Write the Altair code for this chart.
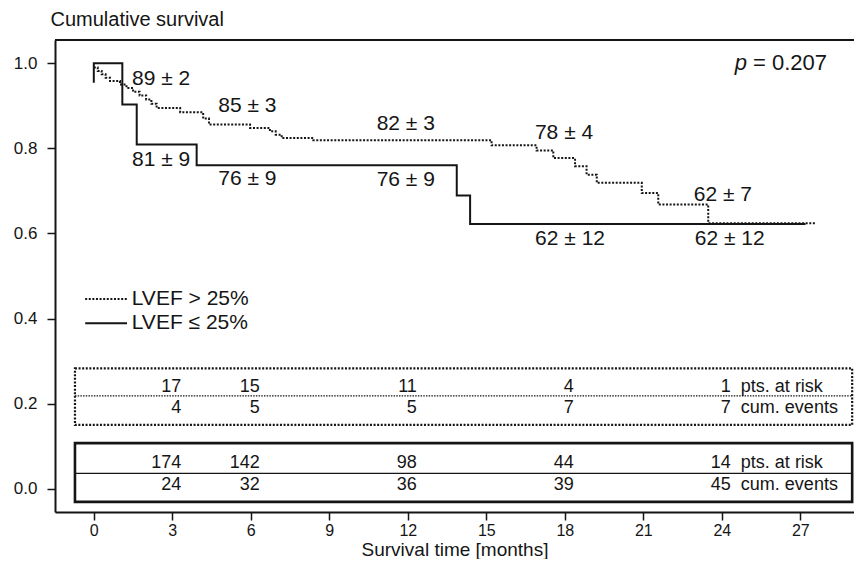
import altair as alt
import pandas as pd

# ---------------- data ----------------
# LVEF > 25% (dotted) Kaplan-Meier steps: time [months], cumulative survival
hi_t = [0, 0.15, 0.3, 0.45, 0.62, 1.0, 1.25, 1.5, 1.75, 2.0, 2.2, 2.4, 3.3, 4.18, 4.4,
        5.97, 6.73, 6.95, 7.18, 8.39, 15.2, 16.92, 17.56, 18.39, 18.83, 19.22, 20.94,
        21.57, 23.48, 27.6]
hi_s = [0.99, 0.982, 0.974, 0.966, 0.958, 0.950, 0.942, 0.933, 0.924, 0.915, 0.905, 0.895,
        0.885, 0.870, 0.856, 0.848, 0.840, 0.832, 0.824, 0.819, 0.807, 0.795, 0.777, 0.758,
        0.738, 0.719, 0.695, 0.668, 0.624, 0.624]
# LVEF <= 25% (solid)
lo_t = [0, 0, 1.09, 1.64, 3.93, 13.87, 14.38, 27.2]
lo_s = [0.954, 1.0, 0.903, 0.809, 0.760, 0.689, 0.622, 0.622]

# survival annotations (percent +- SE)
hi_lab = ["89 ± 2", "85 ± 3", "82 ± 3", "78 ± 4", "62 ± 7"]
hi_lab_t = [2.57, 5.87, 11.92, 17.97, 24.04]
hi_lab_s = [0.963, 0.900, 0.856, 0.836, 0.691]
lo_lab = ["81 ± 9", "76 ± 9", "76 ± 9", "62 ± 12", "62 ± 12"]
lo_lab_t = [2.57, 5.87, 11.92, 18.2, 24.3]
lo_lab_s = [0.773, 0.728, 0.726, 0.588, 0.588]

# numbers at risk tables
table_times = [3, 6, 12, 18, 24]
hi_at_risk = [17, 15, 11, 4, 1]
hi_events = [4, 5, 5, 7, 7]
lo_at_risk = [174, 142, 98, 44, 14]
lo_events = [24, 32, 36, 39, 45]
row_labels = ["pts. at risk", "cum. events"]

legend_labels = ["LVEF > 25%", "LVEF ≤ 25%"]
p_label = "= 0.207"

# ---------------- layout (data units) ----------------
PLOT_W, PLOT_H = 799, 472
XDOM = [-1.483, 29.05]
YDOM = [-0.0548, 1.0546]
BOX_X = (-0.72, 28.98)
HI_BOX = (0.150, 0.283, 0.218, [0.240, 0.189])
LO_BOX = (-0.031, 0.107, 0.036, [0.060, 0.0087])
LEG = dict(x0=-0.33, x1=1.27, xt=1.45, y0=0.4456, dy=0.0565)
P_POS = (28.02, 1.0)

INK = "#151515"
FONT = "Liberation Sans"

xs = alt.Scale(domain=XDOM, nice=False, zero=False)
ys = alt.Scale(domain=YDOM, nice=False, zero=False)
xaxis = alt.Axis(values=list(range(0, 28, 3)), title="Survival time [months]", grid=False,
                 domain=True, domainColor=INK, domainWidth=2,
                 tickSize=8, tickColor=INK, tickWidth=1.5, labelFontSize=16,
                 labelPadding=2, labelColor=INK, titleFontSize=19, titleFontWeight="normal",
                 titleColor=INK, titlePadding=2, labelFont=FONT, titleFont=FONT)
yaxis = alt.Axis(values=[0, 0.2, 0.4, 0.6, 0.8, 1.0], format=".1f", title="Cumulative survival",
                 grid=False, domain=True, domainColor=INK, domainWidth=2,
                 tickSize=8, tickColor=INK, tickWidth=1.5,
                 labelFontSize=17, labelPadding=10, labelColor=INK, titleFontSize=20,
                 titleFontWeight="normal", titleColor=INK, titleAngle=0, titleAlign="left",
                 titleBaseline="middle", titleX=-5, titleY=-21, labelFont=FONT, titleFont=FONT)


def X(f):
    return alt.X(f, type="quantitative", scale=xs, axis=xaxis)


def Y(f):
    return alt.Y(f, type="quantitative", scale=ys, axis=yaxis)


hi_df = pd.DataFrame({"t": hi_t, "s": hi_s})
lo_df = pd.DataFrame({"t": lo_t, "s": lo_s})

hi_line = alt.Chart(hi_df).mark_line(interpolate="step-after", color=INK, strokeWidth=2,
                                     strokeDash=[2, 1.6]).encode(x=X("t"), y=Y("s"))
lo_line = alt.Chart(lo_df).mark_line(interpolate="step-after", color=INK, strokeWidth=2
                                     ).encode(x=X("t"), y=Y("s"))

lab_df = pd.DataFrame({"t": hi_lab_t + lo_lab_t, "s": hi_lab_s + lo_lab_s,
                       "txt": hi_lab + lo_lab})
labels = alt.Chart(lab_df).mark_text(fontSize=21, font=FONT, color=INK, align="center",
                                     baseline="middle").encode(x=X("t"), y=Y("s"), text="txt")

# top frame line
top_line = alt.Chart(pd.DataFrame({"a": [0]})).mark_rule(color=INK, strokeWidth=2).encode(
    x=alt.value(0), x2=alt.value(PLOT_W), y=alt.value(0))


# tables
def table(risk, events, box, dashed):
    y0, y1, ym, rows = box
    bdf = pd.DataFrame({"x0": [BOX_X[0]], "x1": [BOX_X[1]], "y0": [y0], "y1": [y1], "ym": [ym]})
    rect_kw = dict(filled=False, stroke=INK, strokeWidth=2.2 if dashed else 2.6)
    rule_kw = dict(color=INK, strokeWidth=1.2)
    if dashed:
        rect_kw["strokeDash"] = [2, 1.6]
        rule_kw["strokeDash"] = [1.5, 1.2]
    rect = alt.Chart(bdf).mark_rect(**rect_kw).encode(x=X("x0"), x2="x1", y=Y("y0"), y2="y1")
    mid = alt.Chart(bdf).mark_rule(**rule_kw).encode(x=X("x0"), x2="x1", y=Y("ym"))
    ndf = pd.DataFrame({"t": table_times * 2, "s": [rows[0]] * 5 + [rows[1]] * 5,
                        "n": [str(v) for v in risk + events]})
    nums = alt.Chart(ndf).mark_text(fontSize=18, font=FONT, color=INK, align="right",
                                    baseline="middle", dx=9).encode(x=X("t"), y=Y("s"), text="n")
    rdf = pd.DataFrame({"t": [table_times[-1]] * 2, "s": rows, "txt": row_labels})
    rl = alt.Chart(rdf).mark_text(fontSize=18, font=FONT, color=INK, align="left",
                                  baseline="middle", dx=19).encode(x=X("t"), y=Y("s"), text="txt")
    return [rect, mid, nums, rl]


# legend
leg_df = pd.DataFrame({"lab": legend_labels,
                       "x0": [LEG["x0"]] * 2, "x1": [LEG["x1"]] * 2, "xt": [LEG["xt"]] * 2,
                       "y": [LEG["y0"] - i * LEG["dy"] for i in range(2)]})
leg_dot = alt.Chart(leg_df.iloc[[0]]).mark_rule(color=INK, strokeWidth=2, strokeDash=[2, 1.6]
                                                ).encode(x=X("x0"), x2="x1", y=Y("y"))
leg_sol = alt.Chart(leg_df.iloc[[1]]).mark_rule(color=INK, strokeWidth=2
                                                ).encode(x=X("x0"), x2="x1", y=Y("y"))
leg_txt = alt.Chart(leg_df).mark_text(fontSize=21, font=FONT, color=INK, align="left",
                                      baseline="middle").encode(x=X("xt"), y=Y("y"), text="lab")

# p-value
p_df = pd.DataFrame({"t": [P_POS[0]], "s": [P_POS[1]], "txt": [p_label], "p": ["p"]})
p_val = alt.Chart(p_df).mark_text(fontSize=22, font=FONT, color=INK, align="right",
                                  baseline="middle").encode(x=X("t"), y=Y("s"), text="txt")
p_sym = alt.Chart(p_df).mark_text(fontSize=22, font=FONT, color=INK, align="right",
                                  baseline="middle", fontStyle="italic", dx=-80
                                  ).encode(x=X("t"), y=Y("s"), text="p")

layers = ([hi_line, lo_line, labels, top_line] + table(hi_at_risk, hi_events, HI_BOX, True)
          + table(lo_at_risk, lo_events, LO_BOX, False) + [leg_dot, leg_sol, leg_txt, p_val, p_sym])

chart = alt.layer(*layers).properties(
    width=PLOT_W, height=PLOT_H,
    autosize=alt.AutoSizeParams(type="none"),
    padding={"left": 47, "top": 32, "right": 0, "bottom": 47},
    background="white",
).configure_view(stroke=None)

chart.save("out.html", embed_options={"renderer": "svg", "actions": False})
